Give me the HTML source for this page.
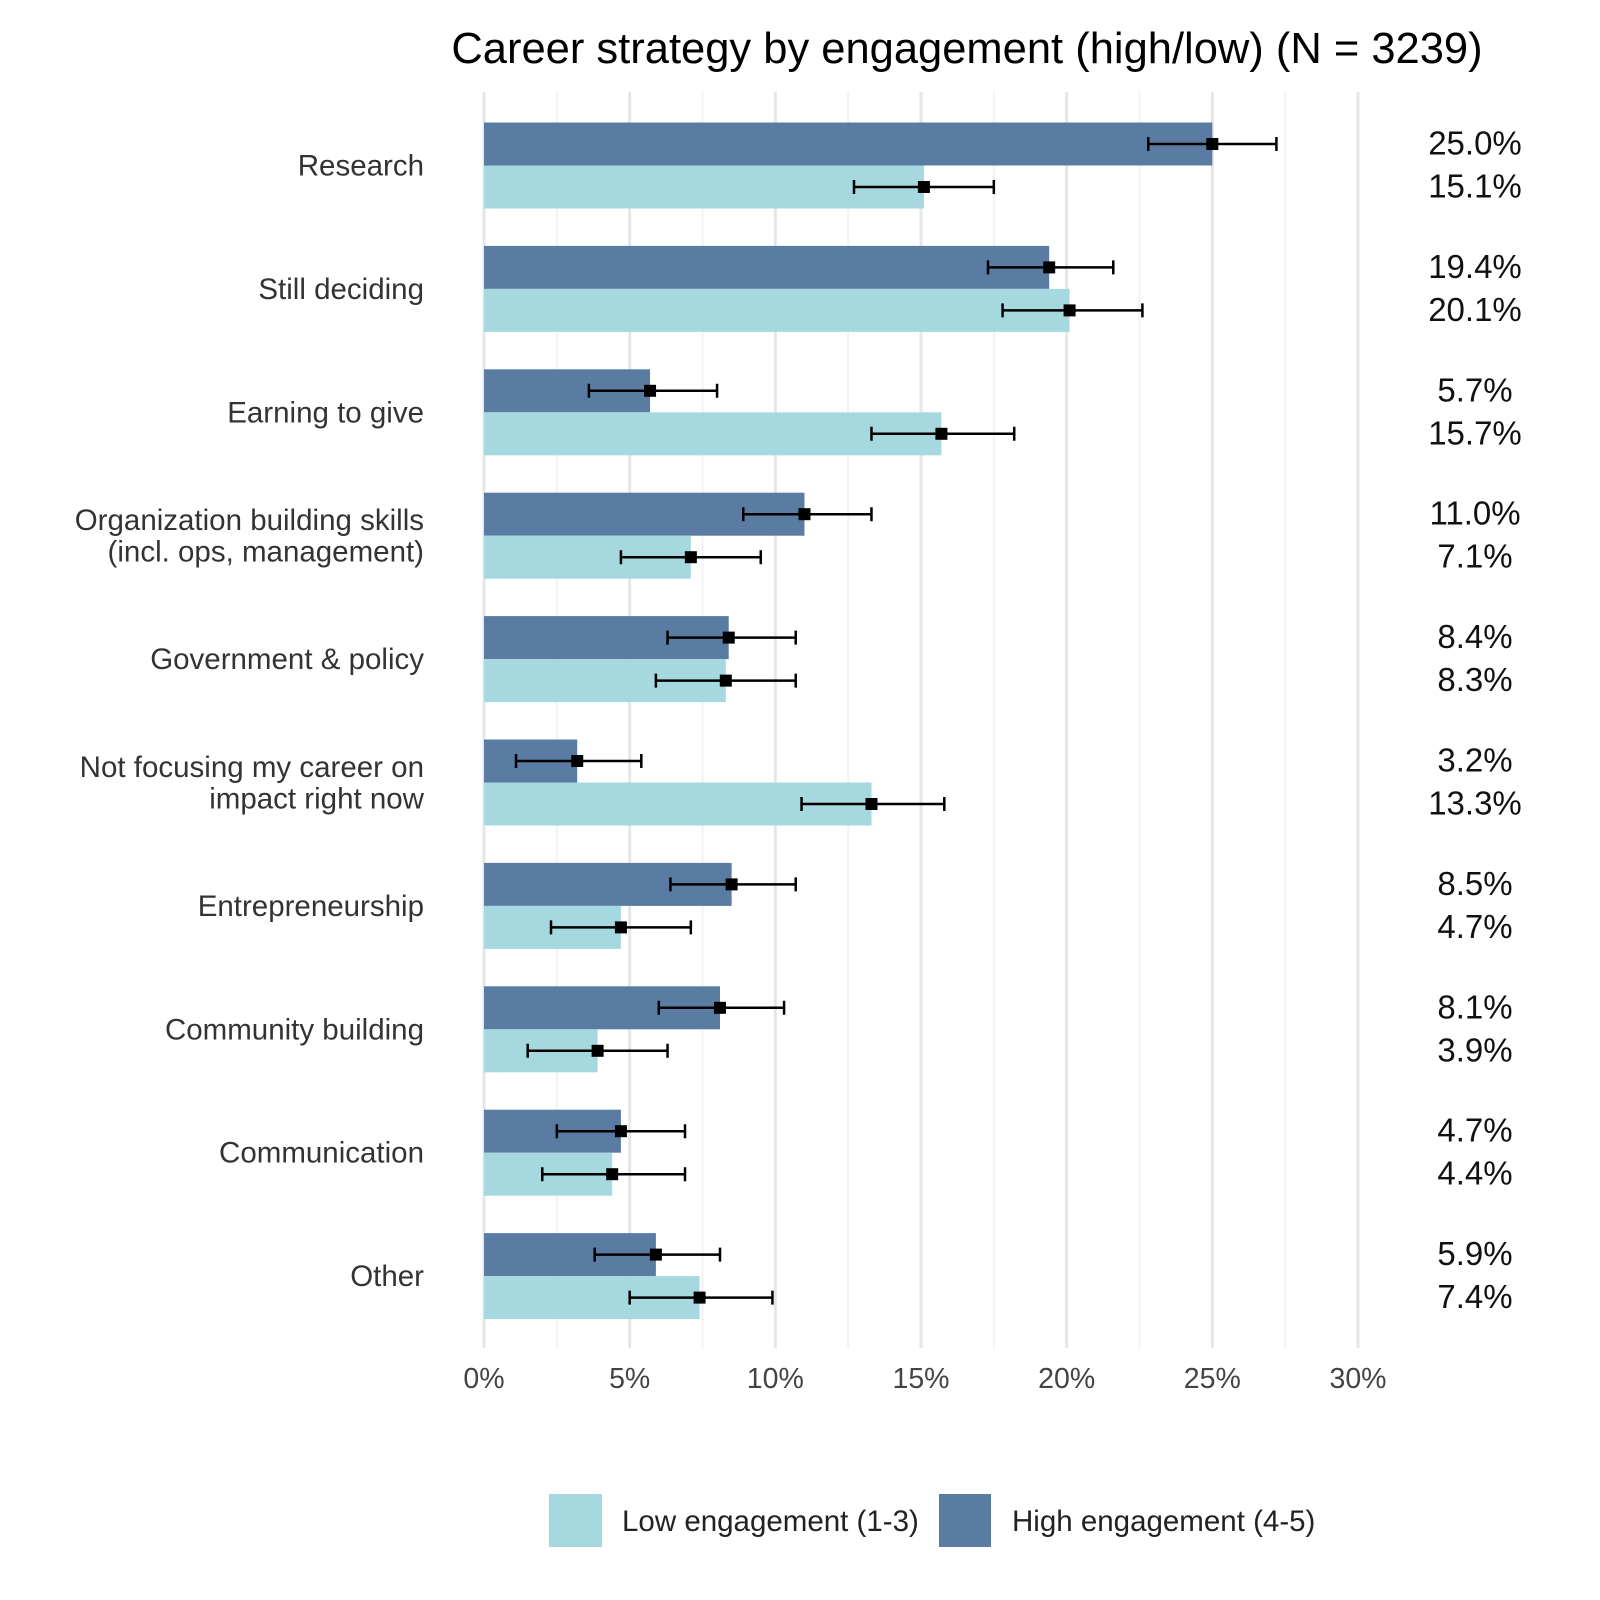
<!DOCTYPE html>
<html><head><meta charset="utf-8"><style>
body{margin:0;background:#fff;}
svg{display:block;font-family:"Liberation Sans",Arial,sans-serif;}
</style></head><body>
<svg id="chart" width="1600" height="1600" viewBox="0 0 1600 1600">
<text x="967" y="63" font-size="43.5" text-anchor="middle" fill="#000">Career strategy by engagement (high/low) (N = 3239)</text>
<g id="grid"></g><g id="bars"></g><g id="errs"></g><g id="labels"></g><g id="ticks"></g>
<g>
<rect x="549" y="1494" width="53" height="53" fill="#a6d8e0"/>
<text x="622" y="1531" font-size="29.5" fill="#222">Low engagement (1-3)</text>
<rect x="939" y="1494" width="52" height="53" fill="#5a7ca3"/>
<text x="1012" y="1531" font-size="29.5" fill="#222">High engagement (4-5)</text>
</g>
</svg>
<script>
const categories=[["Research"],["Still deciding"],["Earning to give"],["Organization building skills","(incl. ops, management)"],["Government & policy"],["Not focusing my career on","impact right now"],["Entrepreneurship"],["Community building"],["Communication"],["Other"]];
const highVals=[25.0,19.4,5.7,11.0,8.4,3.2,8.5,8.1,4.7,5.9];
const lowVals=[15.1,20.1,15.7,7.1,8.3,13.3,4.7,3.9,4.4,7.4];
const highLo=[22.8,17.3,3.6,8.9,6.3,1.1,6.4,6.0,2.5,3.8];
const highHi=[27.2,21.6,8.0,13.3,10.7,5.4,10.7,10.3,6.9,8.1];
const lowLo=[12.7,17.8,13.3,4.7,5.9,10.9,2.3,1.5,2.0,5.0];
const lowHi=[17.5,22.6,18.2,9.5,10.7,15.8,7.1,6.3,6.9,9.9];
const xTicks=[0,5,10,15,20,25,30];
const NS="http://www.w3.org/2000/svg";
const x=v=>484+v*(1358-484)/30;
const yc=i=>165.5+i*123.4;
function mk(tag,attrs,parent,text){const e=document.createElementNS(NS,tag);for(const k in attrs)e.setAttribute(k,attrs[k]);if(text!==undefined)e.textContent=text;document.getElementById(parent).appendChild(e);return e;}
for(let v=0;v<=30;v+=2.5){
  const g=mk('line',{x1:x(v),x2:x(v),y1:92,y2:1348,stroke:v%5===0?'#e6e6e6':'#f2f2f2','stroke-width':v%5===0?3:2},'grid');
  
  
}
xTicks.forEach(t=>{
  const e=mk('text',{x:x(t),y:1388,'font-size':28.5,'text-anchor':'middle',fill:'#444'},'ticks',t+'%');
  
  
});
categories.forEach((c,i)=>{
  const y=yc(i);
  const bh=mk('rect',{x:x(0),y:y-43,width:x(highVals[i])-x(0),height:43,fill:'#5a7ca3'},'bars');
  
  
  const bl=mk('rect',{x:x(0),y:y,width:x(lowVals[i])-x(0),height:43,fill:'#a6d8e0'},'bars');
  
  
  [[highVals[i],highLo[i],highHi[i],y-21.5],[lowVals[i],lowLo[i],lowHi[i],y+21.5]].forEach(([v,lo,hi,yy])=>{
    const l=mk('path',{d:`M${x(lo)},${yy}H${x(hi)}M${x(lo)},${yy-7}V${yy+7}M${x(hi)},${yy-7}V${yy+7}`,stroke:'#000','stroke-width':2.5,fill:'none'},'errs');
    
    
    const p=mk('rect',{x:x(v)-6,y:yy-6,width:12,height:12,fill:'#000'},'errs');
    
    
  });
  const n=c.length;
  c.forEach((line,j)=>{
    const t=mk('text',{x:424,y:y+10+(j-(n-1)/2)*31.5,'font-size':29.5,'text-anchor':'end',fill:'#333'},'labels',line);
    
    
  });
  const vh=mk('text',{x:1475,y:y-11,'font-size':33,'text-anchor':'middle',fill:'#111'},'labels',highVals[i].toFixed(1)+'%');
  
  
  const vl=mk('text',{x:1475,y:y+32,'font-size':33,'text-anchor':'middle',fill:'#111'},'labels',lowVals[i].toFixed(1)+'%');
  
  
});
</script>
</body></html>
